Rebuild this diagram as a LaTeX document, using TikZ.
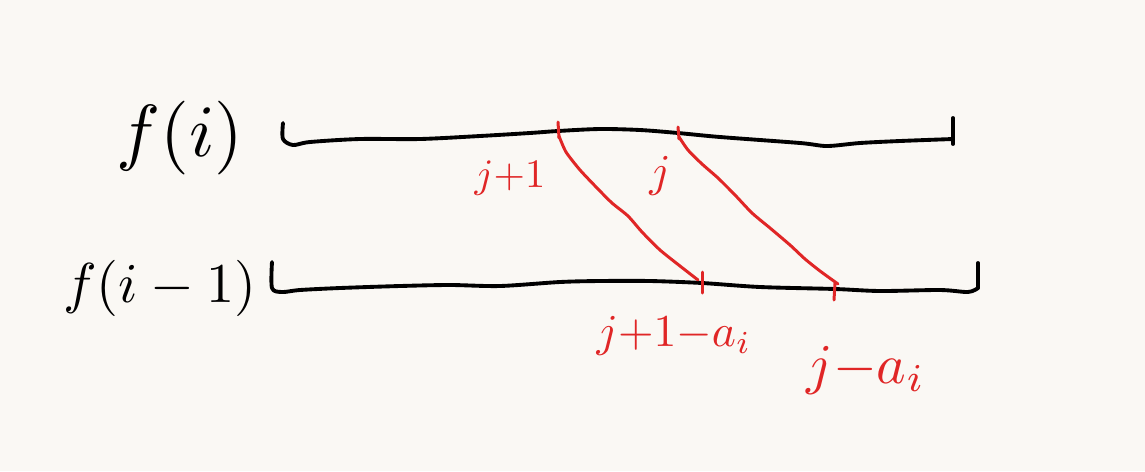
\documentclass[tikz,border=0pt]{standalone}
\usetikzlibrary{calc}
\definecolor{paper}{HTML}{FAF8F4}
\definecolor{pen}{HTML}{E02626}
\tikzset{
  blackline/.style={line width=2.2pt, black, line cap=round, line join=round},
  redline/.style={line width=1.7pt, pen, line cap=round, line join=round},
  bigtext/.style={inner sep=0pt, black},
  redtext/.style={inner sep=0pt, pen}
}
\begin{document}
\begin{tikzpicture}[x=0.02cm,y=-0.02cm]
\fill[paper] (0,0) rectangle (1145,471);
\useasboundingbox (0,0) rectangle (1145,471);

% labels
\node[bigtext] (fi) at (180,138) {\scalebox{4.2}{$f(i)$}};
\node[bigtext] (fim) at (160,288) {\scalebox{3.2}{$f(i-1)$}};
\node[redtext] (lj1) at (510,178) {\scalebox{2.3}{$j{+}1$}};
\node[redtext] (lj) at (660,176) {\scalebox{2.6}{$j$}};
\node[redtext] (lj1a) at (674,336) {\scalebox{2.6}{$j{+}1{-}a_i$}};
\node[redtext] (lja) at (866,370) {\scalebox{3.2}{$j{-}a_i$}};

% top line endpoints
\coordinate (tL) at (283,123);
\coordinate (tR) at (953,118);
\coordinate (tA) at (558,131);
\coordinate (tB) at (678,133);
% bottom line endpoints
\coordinate (bL) at (272,262);
\coordinate (bR) at (978,263);
\coordinate (bA) at (702,283);
\coordinate (bB) at (835,289);

% top line
\draw[blackline] plot[smooth, tension=0.5] coordinates {(tL) (283,139) (293,145) (310,142) (360,139) (420,139) (480,136) (530,133) (tA) (600,129) (640,130) (tB) (720,137) (800,143) (827,146) (860,143) (900,141) (953,139)};
\draw[blackline] (tR) -- (953,144);

% bottom line
\draw[blackline] plot[smooth, tension=0.5] coordinates {(bL) (272,288) (282,292) (300,290) (340,288) (400,286) (450,285) (500,286) (560,282) (600,281) (650,281) (bA) (760,287) (bB) (880,291) (940,290) (968,292) (978,288)};
\draw[blackline] (bR) -- (978,288);

% red ticks
\draw[redline] (558,122) -- (559,138);
\draw[redline] (678,127) -- (679,139);
\draw[redline] (702,272) -- (702,293);
\draw[redline] (835,283) -- (834,300);

% red diagonals
\draw[redline] plot[smooth, tension=0.4] coordinates {(559,136) (566,152) (580,170) (598,189) (612,203) (628,216) (642,232) (660,250) (680,266) (698,280)};
\draw[redline] plot[smooth, tension=0.4] coordinates {(679,137) (688,150) (702,164) (718,178) (735,195) (752,213) (770,228) (790,245) (805,259) (820,271) (838,284)};
\end{tikzpicture}
\end{document}
